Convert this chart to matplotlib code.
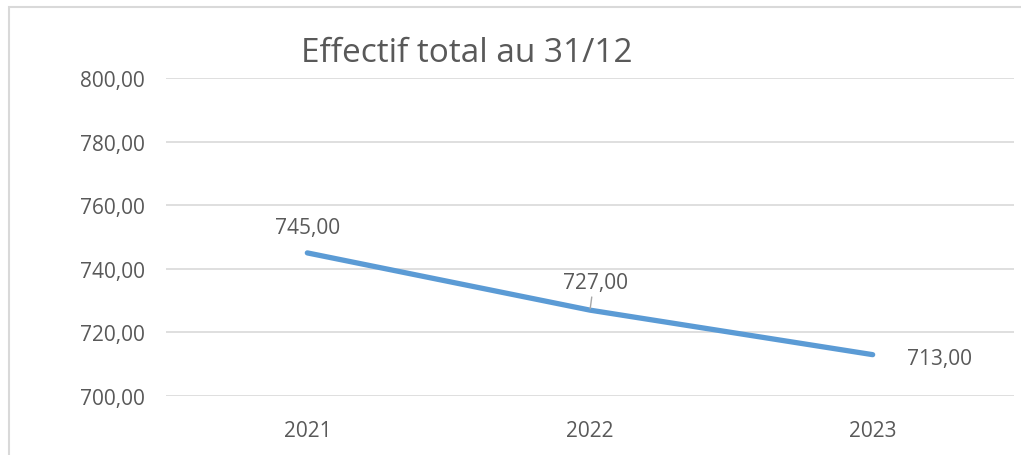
import matplotlib.pyplot as plt

years = ["2021", "2022", "2023"]
effectif = [745, 727, 713]
yticks = [700, 720, 740, 760, 780, 800]

plt.rcParams['font.family'] = ['Open Sans', 'DejaVu Sans']
grey = '#595959'

fig = plt.figure(figsize=(10.21, 4.56), dpi=100)
# outer chart border (runs off the right and bottom edges)
fig.patches.append(plt.Rectangle((9 / 1021, -0.1), 1.1, 1.1 - 8 / 456,
                                 transform=fig.transFigure, fill=False,
                                 edgecolor='#d9d9d9', linewidth=1.5))

ax = fig.add_axes([166 / 1021, 1 - 397 / 456, (1014 - 166) / 1021, (397 - 79) / 456])
x = list(range(len(years)))
ax.plot(x, effectif, color='#5b9bd5', linewidth=3.8, solid_capstyle='round', zorder=3)

ax.set_xlim(-0.5, 2.5)
ax.set_ylim(700, 800)
ax.set_yticks(yticks)
ax.set_yticklabels([f"{v:.2f}".replace('.', ',') for v in yticks])
ax.set_xticks(x)
ax.set_xticklabels(years)
ax.grid(axis='y', color='#d9d9d9', linewidth=1.2)
ax.set_axisbelow(True)
for s in ax.spines.values():
    s.set_visible(False)
ax.tick_params(length=0, labelsize=15, colors=grey, pad=15)
ax.tick_params(axis='x', pad=17)

lab = [f"{v:.2f}".replace('.', ',') for v in effectif]
ax.annotate(lab[0], (x[0], effectif[0]), xytext=(0, 18), textcoords='offset points',
            ha='center', va='center', fontsize=15, color=grey)
ax.annotate(lab[1], (x[1], effectif[1]), xytext=(4, 20), textcoords='offset points',
            ha='center', va='center', fontsize=15, color=grey,
            arrowprops=dict(arrowstyle='-', color='#a6a6a6', lw=1, shrinkA=1, shrinkB=1,
                            relpos=(0.45, 0)))
ax.annotate(lab[2], (x[2], effectif[2]), xytext=(48, -3), textcoords='offset points',
            ha='center', va='center', fontsize=15, color=grey)

fig.text(467 / 1021, 1 - 53 / 456, "Effectif total au 31/12", ha='center', va='center',
         fontsize=24, color=grey)

fig.savefig('out.png', dpi=100)
